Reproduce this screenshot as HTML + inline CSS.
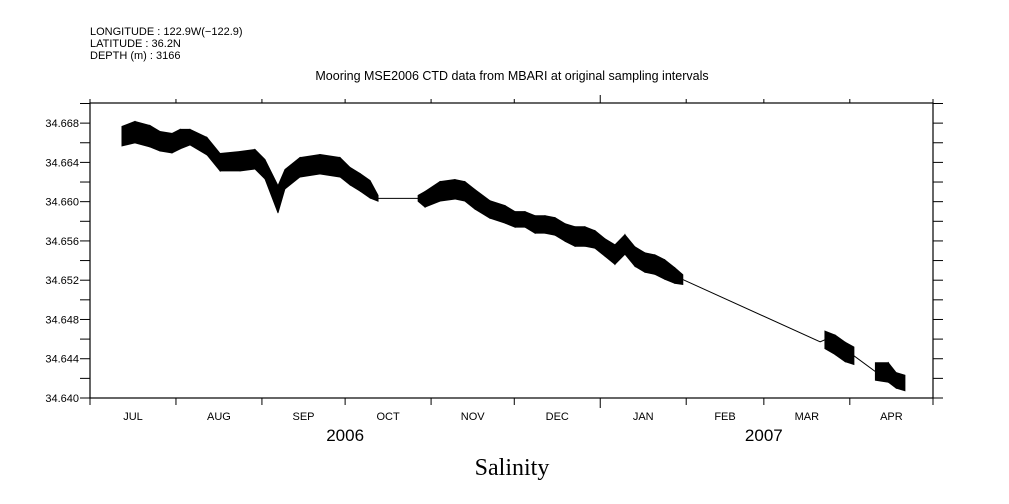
<!DOCTYPE html>
<html><head><meta charset="utf-8"><style>
html,body{margin:0;padding:0;background:#fff;}
svg{display:block;font-family:"Liberation Sans",sans-serif;}
</style></head><body>
<svg id="chart" width="1009" height="504" viewBox="0 0 1009 504" xmlns="http://www.w3.org/2000/svg">
<g font-size="11" fill="#000">
<text x="90" y="35">LONGITUDE : 122.9W(−122.9)</text>
<text x="90" y="47">LATITUDE : 36.2N</text>
<text x="90" y="59">DEPTH (m) : 3166</text>
</g>
<text x="512" y="80" font-size="12.5" text-anchor="middle">Mooring MSE2006 CTD data from MBARI at original sampling intervals</text>
<text x="512" y="475" font-size="24" text-anchor="middle" font-family="Liberation Serif, serif">Salinity</text>
<g id="axes"></g>
<g id="series"></g>
</svg>
<script>
// data: days since 2006-07-01
const days=[11.5,16.2,21.6,25.2,29.6,32.5,36.1,42.2,46.9,54.1,59.5,63.1,67.8,70.3,75.7,82.9,90.2,93.8,97.4,101,103.9,118.3,120.8,126.2,131.6,135.2,138.8,144.2,149.7,153.3,156.9,160.5,164.1,167.7,171.3,174.9,178.5,182.1,185.7,189.3,192.9,196.5,200.1,203.7,207.3,210.9,213.8,263.3,265,268.7,272.3,275.5,283.2,287.9,290.7,293.9];
const salinity=[34.66667,34.66708,34.66667,34.66616,34.66596,34.66637,34.66657,34.66565,34.66402,34.66412,34.66432,34.6633,34.66024,34.66228,34.6635,34.66381,34.6635,34.66259,34.66197,34.66126,34.66034,34.66034,34.66024,34.66105,34.66126,34.66105,34.66024,34.65921,34.6587,34.65819,34.65819,34.65768,34.65768,34.65748,34.65686,34.65645,34.65645,34.65615,34.65533,34.65461,34.65564,34.65441,34.6538,34.65359,34.65308,34.65247,34.65206,34.64572,34.64593,34.64542,34.6447,34.6443,34.6427,34.6426,34.6418,34.64153];
const spread=[0.0010,0.0011,0.0011,0.0010,0.0010,0.0010,0.0008,0.0009,0.0009,0.0010,0.0010,0.0010,0.0014,0.0010,0.0010,0.0010,0.0010,0.0009,0.0009,0.0009,0.0003,0.0003,0.0008,0.0010,0.0010,0.0010,0.0010,0.0009,0.0009,0.0008,0.0008,0.0009,0.0009,0.0009,0.0009,0.0010,0.0010,0.0009,0.0009,0.0010,0.0010,0.0010,0.0010,0.0010,0.0010,0.0008,0.0005,0.0002,0.0009,0.0010,0.0010,0.0009,0.0009,0.0010,0.0008,0.0008];
const segment=[1,1,1,1,1,1,1,1,1,1,1,1,1,1,1,1,1,1,1,1,1,2,2,2,2,2,2,2,2,2,2,2,2,2,2,2,2,2,2,2,2,2,2,2,2,2,2,3,4,4,4,4,5,5,5,5];
const yTicks=[34.640,34.644,34.648,34.652,34.656,34.660,34.664,34.668];
const yTickLabels=["34.640","34.644","34.648","34.652","34.656","34.660","34.664","34.668"];
const monthLabels=["JUL","AUG","SEP","OCT","NOV","DEC","JAN","FEB","MAR","APR"];
const monthStarts=[0,31,62,92,123,153,184,215,243,274,304];
const yearLabels=["2006","2007"];

const L=90,R=933,T=103,B=398,D0=0,D1=304,V0=34.640,V1=34.67005;
const xs=d=>L+(d-D0)/(D1-D0)*(R-L);
const ys=v=>B-(v-V0)/(V1-V0)*(B-T);
const NS="http://www.w3.org/2000/svg";
const axes=document.getElementById('axes'),ser=document.getElementById('series');
function mk(tag,attrs,parent){const e=document.createElementNS(NS,tag);for(const k in attrs)e.setAttribute(k,attrs[k]);parent.appendChild(e);return e;}
const frame=mk('rect',{x:L,y:T,width:R-L,height:B-T,fill:'none',stroke:'#000','stroke-width':1.2},axes);


for(let v=V0;v<=34.6701;v+=0.002){
  const y=ys(v);
  const t1=mk('line',{x1:L-10,x2:L,y1:y,y2:y,stroke:'#000'},axes);
  
  
  const t2=mk('line',{x1:R,x2:R+10,y1:y,y2:y,stroke:'#000'},axes);
  
  
}
yTicks.forEach((v,i)=>{
  const t=mk('text',{x:L-11,y:ys(v)+4,'font-size':11,'text-anchor':'end'},axes);
  t.textContent=yTickLabels[i];
  
  
});
monthStarts.forEach((d,i)=>{
  const x=xs(d);
  const big=(d===184);
  const a=mk('line',{x1:x,x2:x,y1:B,y2:B+(big?10:7),stroke:'#000'},axes);
  
  
  const b=mk('line',{x1:x,x2:x,y1:T,y2:T-(big?8:4),stroke:'#000'},axes);
  
  
});
monthLabels.forEach((m,i)=>{
  const t=mk('text',{x:(xs(monthStarts[i])+xs(monthStarts[i+1]))/2,y:420,'font-size':11,'text-anchor':'middle'},axes);
  t.textContent=m;
  
  
});
[[yearLabels[0],xs(92)],[yearLabels[1],xs(243)]].forEach(([s,x])=>{
  const t=mk('text',{x:x,y:441,'font-size':17,'text-anchor':'middle'},axes);
  t.textContent=s;
  
  
});
const line=mk('polyline',{points:days.map((d,i)=>xs(d)+','+ys(salinity[i])).join(' '),fill:'none',stroke:'#000','stroke-width':1},ser);


for(let i=0;i<days.length-1;i++){
  if(segment[i]!==segment[i+1])continue;
  const pts=[[xs(days[i]),ys(salinity[i]+spread[i])],[xs(days[i+1]),ys(salinity[i+1]+spread[i+1])],[xs(days[i+1]),ys(salinity[i+1]-spread[i+1])],[xs(days[i]),ys(salinity[i]-spread[i])]];
  const p=mk('polygon',{points:pts.map(q=>q.join(',')).join(' '),fill:'#000',stroke:'#000','stroke-width':0.8},ser);
  
  
}
</script>
</body></html>
